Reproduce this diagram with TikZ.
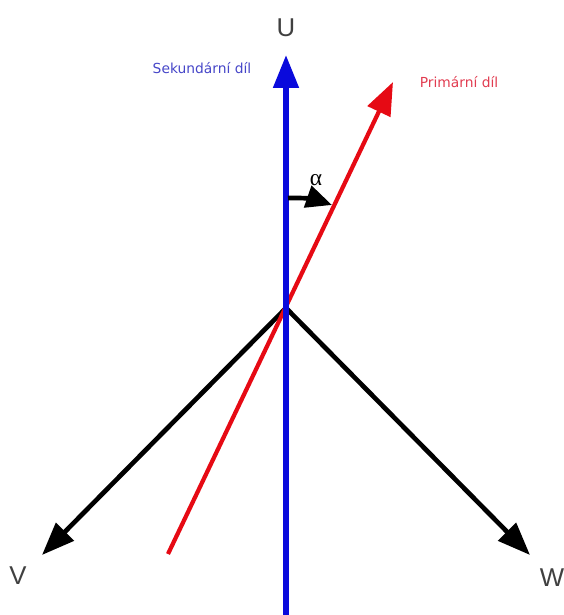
\documentclass[tikz,border=0pt]{standalone}
\usepackage{fontspec}
\setmainfont{DejaVu Sans}
\newfontfamily\axisfont{Liberation Sans}
\newfontfamily\greekfont{Liberation Serif}
\usetikzlibrary{arrows.meta}
\definecolor{vblue}{RGB}{10,10,220}
\definecolor{vred}{RGB}{230,10,20}
\definecolor{tblue}{RGB}{70,70,200}
\definecolor{tred}{RGB}{225,60,80}
\begin{document}
\begin{tikzpicture}[x=0.03cm,y=-0.03cm,
  vec/.style={line width=4pt,-{Triangle[length=28pt,width=21pt]}},
  axislabel/.style={font=\axisfont\fontsize{22}{22}\selectfont, text=black!75},
  partlabel/.style={font=\fontsize{11.8}{13}\selectfont}]
\useasboundingbox (0,0) rectangle (564,615);
\coordinate (O) at (286,308);
\coordinate (Ubot) at (286,615);
\coordinate (Utip) at (286,55);
\coordinate (Pstart) at (168,554);
\coordinate (Ptip) at (393,82);
\coordinate (Vtip) at (42,555);
\coordinate (Wtip) at (530,555);
\coordinate (a0) at (288,198);
\coordinate (a1) at (332,205);
\draw[vec,black] (O) -- (Vtip);
\draw[vec,black] (O) -- (Wtip);
\draw[vec,vred,line width=3.6pt] (Pstart) -- (Ptip);
\draw[vec,vblue,line width=4.8pt] (Ubot) -- (Utip);
\draw[black,line width=4pt,-{Triangle[length=22pt,width=19pt]}] (a0) to[bend left=10] (a1);
\node[axislabel] (U) at (286,28) {U};
\node[axislabel] (V) at (18,576) {V};
\node[axislabel] (W) at (552,578) {W};
\node[partlabel,text=tblue] (sek) at (202,68) {Sekundární díl};
\node[partlabel,text=tred] (prim) at (459,82) {Primární díl};
\node[font=\greekfont\fontsize{20}{20}\selectfont] (alpha) at (316,180) {α};
\end{tikzpicture}
\end{document}
